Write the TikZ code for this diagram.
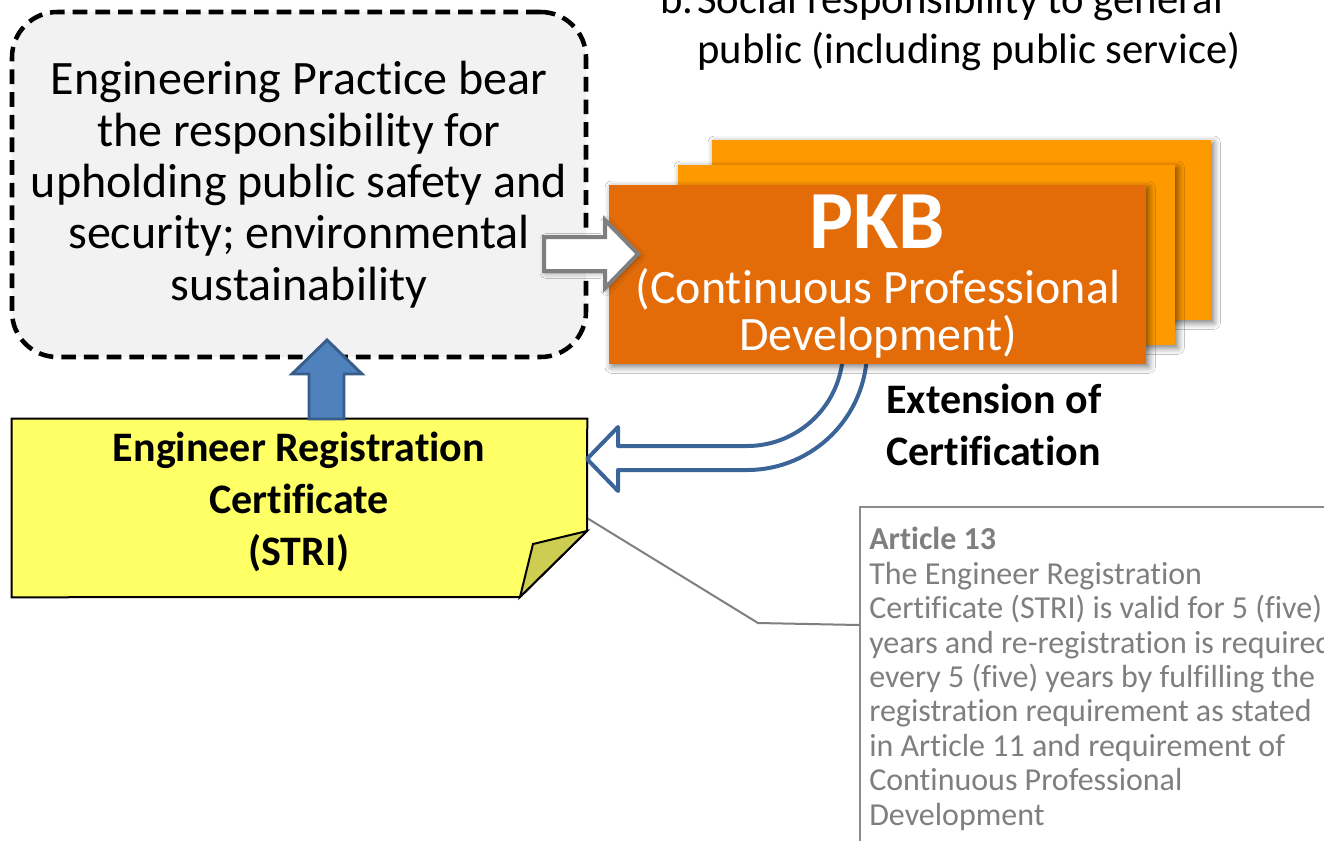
\documentclass[tikz,border=0pt]{standalone}
\usepackage{fontspec}
\setmainfont{Carlito}[Ligatures=NoCommon]
\usetikzlibrary{fit,shadows.blur}
\definecolor{grayfill}{HTML}{F2F2F2}
\definecolor{orangeL}{HTML}{FF9900}
\definecolor{orangeD}{HTML}{E36C09}
\definecolor{noteY}{HTML}{FFFF66}
\definecolor{foldY}{HTML}{CDCD52}
\definecolor{blueF}{HTML}{4F81BD}
\definecolor{blueD}{HTML}{385D8A}
\definecolor{blueC}{HTML}{3B6598}
\definecolor{grayT}{HTML}{7F7F7F}
\tikzset{
  respbox/.style={draw=black, fill=grayfill, line width=3.4pt, dash pattern=on 11pt off 6pt, rounded corners=34pt, inner sep=0pt},
  cardbox/.style={inner sep=0pt, blur shadow={shadow xshift=2pt, shadow yshift=-2pt, shadow blur radius=5pt, shadow opacity=55}},
  plainfit/.style={inner sep=0pt},
  bodytext/.style={inner sep=0pt, font=\fontsize{36}{38.5}\selectfont},
  toptext/.style={inner sep=0pt, font=\fontsize{32}{37.5}\selectfont},
  pkbtitle/.style={inner sep=0pt, text=white, font=\fontsize{62}{66}\selectfont\bfseries},
  pkbsub/.style={inner sep=0pt, text=white, font=\fontsize{36}{35.25}\selectfont},
  boldtext/.style={inner sep=0pt, font=\fontsize{31.5}{39}\selectfont\bfseries},
  calltext/.style={inner sep=0pt, text=grayT, font=\fontsize{24}{25.8}\selectfont},
  hollowgray/.style={draw=grayT, fill=white, line width=3pt, line join=miter, blur shadow={shadow xshift=1pt, shadow yshift=-1.5pt, shadow blur radius=4pt, shadow opacity=40}},
  hollowblue/.style={draw=blueC, fill=white, line width=3pt, line join=round},
  solidblue/.style={draw=blueD, fill=blueF, line width=2.2pt, line join=miter},
  notebody/.style={fill=noteY, draw=black, line width=1.5pt, line join=miter},
  notefold/.style={fill=foldY, draw=black, line width=1.5pt, line join=miter},
  leader/.style={draw=grayT, line width=1.5pt},
  callbox/.style={draw=grayT!90, fill=white, line width=1.5pt, inner sep=0pt}
}
\begin{document}
\begin{tikzpicture}[x=0.75pt,y=-0.75pt]
\useasboundingbox (0,0) rectangle (1324,840);
\fill[white] (0,0) rectangle (1324,840);

% top text (anchor base = last line)
\node[toptext, anchor=base west] (blabel) at (660,13) {b.};
\node[toptext, anchor=base west, align=left] (social) at (697,63) {Social responsibility to general\\public (including public service)};

% grey responsibility box
\node[respbox, fit={(12,12) (586,357)}] (resp) {};
\node[bodytext, anchor=base, align=center] (resptext) at (299,300)
  {Engineering Practice bear\\the responsibility for\\upholding public safety and\\security; environmental\\sustainability};

% callout box and leader
\node[callbox, fit={(860,507) (1340,860)}] (article) {};
\node[calltext, anchor=base west, align=left] (articletext) at (869,825)
  {\textbf{Article 13}\\The Engineer Registration\\Certificate (STRI) is valid for 5 (five)\\years and re-registration is required\\every 5 (five) years by fulfilling the\\registration requirement as stated\\in Article 11 and requirement of\\Continuous Professional\\Development};

% yellow note
\node[plainfit, fit={(12,419) (587,597)}] (cert) {};
\draw[leader] (587,518) -- (758,623) -- (article.west |- 0,625);
\path[notebody] (cert.north west) -- (cert.north east) -- (587,531) -- (520,597) -- (cert.south west) -- cycle;
\path[notefold] (587,531) -- (533,544) -- (520,597) -- cycle;
\node[boldtext, anchor=base, align=center] (certtext) at (299,565)
  {Engineer Registration\\Certificate\\(STRI)};

% curved hollow arrow PKB -> certificate
\path[hollowblue] (843,330) -- (843,350) arc[start angle=0, end angle=90, radius=96]
  -- (618,446) -- (618,427) -- (587,459) -- (618,491) -- (618,470) -- (747,470)
  arc[start angle=90, end angle=0, radius=120] -- (867,330) -- cycle;

% stacked orange cards
\node[cardbox, fill=orangeL, fit={(712,140) (1211,320)}] (card3) {};
\node[cardbox, fill=orangeL, fit={(678,165) (1175,345)}] (card2) {};
\node[cardbox, fill=orangeD, fit={(609,185) (1146,364)}] (pkb) {};
\node[pkbtitle, anchor=base] (pkbtitle) at (877,248) {PKB};
\node[pkbsub, anchor=base, align=center] (pkbsub) at (878,350) {(Continuous Professional\\Development)};

% grey hollow arrow resp -> pkb
\path[hollowgray] (544,237) -- (605,237) -- (605,220) -- (638,254) -- (605,288) -- (605,271) -- (544,271) -- cycle;

% blue up arrow cert -> resp
\path[solidblue] (309,419) -- (309,374) -- (292,374) -- (327,340) -- (362,374) -- (344,374) -- (344,419) -- cycle;

% extension label
\node[boldtext, anchor=base west, align=left] (ext) at (886,465) {Extension of\\Certification};
\end{tikzpicture}
\end{document}
